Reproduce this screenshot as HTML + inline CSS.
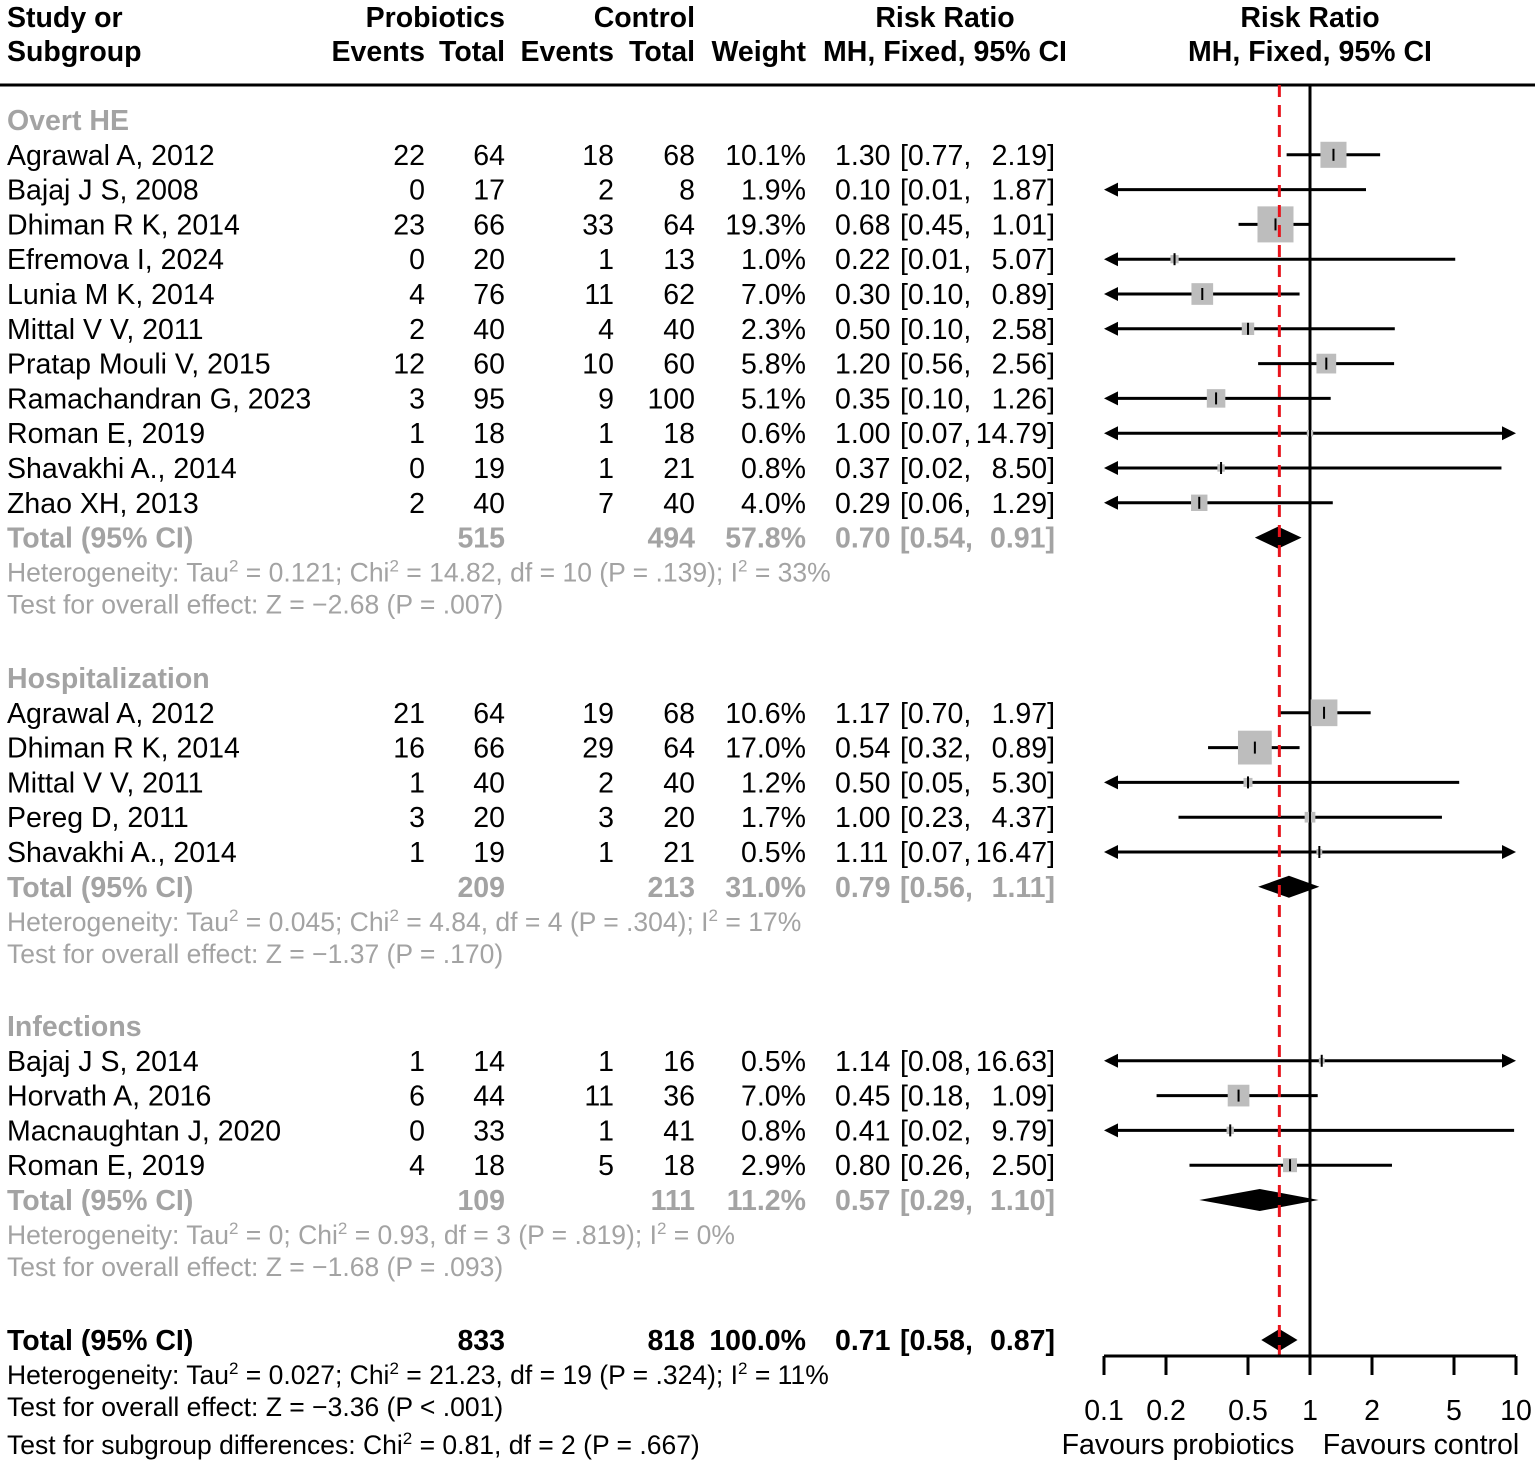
<!DOCTYPE html>
<html><head><meta charset="utf-8"><style>
html,body{margin:0;padding:0;background:#fff;}
svg{display:block;font-family:"Liberation Sans",sans-serif;}
</style></head><body>
<svg id="c" width="1535" height="1465" viewBox="0 0 1535 1465"></svg>
<script>
const groupNames=["Overt HE","Hospitalization","Infections"];
const studies=[
["Agrawal A, 2012","Bajaj J S, 2008","Dhiman R K, 2014","Efremova I, 2024","Lunia M K, 2014","Mittal V V, 2011","Pratap Mouli V, 2015","Ramachandran G, 2023","Roman E, 2019","Shavakhi A., 2014","Zhao XH, 2013"],
["Agrawal A, 2012","Dhiman R K, 2014","Mittal V V, 2011","Pereg D, 2011","Shavakhi A., 2014"],
["Bajaj J S, 2014","Horvath A, 2016","Macnaughtan J, 2020","Roman E, 2019"]];
const pEvents=[[22,0,23,0,4,2,12,3,1,0,2],[21,16,1,3,1],[1,6,0,4]];
const pTotal=[[64,17,66,20,76,40,60,95,18,19,40],[64,66,40,20,19],[14,44,33,18]];
const cEvents=[[18,2,33,1,11,4,10,9,1,1,7],[19,29,2,3,1],[1,11,1,5]];
const cTotal=[[68,8,64,13,62,40,60,100,18,21,40],[68,64,40,20,21],[16,36,41,18]];
const weights=[[10.1,1.9,19.3,1.0,7.0,2.3,5.8,5.1,0.6,0.8,4.0],[10.6,17.0,1.2,1.7,0.5],[0.5,7.0,0.8,2.9]];
const rr=[[1.30,0.10,0.68,0.22,0.30,0.50,1.20,0.35,1.00,0.37,0.29],[1.17,0.54,0.50,1.00,1.11],[1.14,0.45,0.41,0.80]];
const lo=[[0.77,0.01,0.45,0.01,0.10,0.10,0.56,0.10,0.07,0.02,0.06],[0.70,0.32,0.05,0.23,0.07],[0.08,0.18,0.02,0.26]];
const hi=[[2.19,1.87,1.01,5.07,0.89,2.58,2.56,1.26,14.79,8.50,1.29],[1.97,0.89,5.30,4.37,16.47],[16.63,1.09,9.79,2.50]];
const subTotP=[515,209,109], subTotC=[494,213,111], subW=[57.8,31.0,11.2];
const subRR=[0.70,0.79,0.57], subLo=[0.54,0.56,0.29], subHi=[0.91,1.11,1.10];
const hetText=[["0.121","14.82","10",".139","33%"],["0.045","4.84","4",".304","17%"],["0","0.93","3",".819","0%"]];
const zText=[["−2.68","= .007"],["−1.37","= .170"],["−1.68","= .093"]];
const overall={p:833,c:818,w:"100.0%",rr:0.71,lo:0.58,hi:0.87};
const ticks=[0.1,0.2,0.5,1,2,5,10];

const svg=document.getElementById('c');const NS="http://www.w3.org/2000/svg";
const X=v=>1310+Math.log10(v)*206;
const XMIN=1104,XMAX=1516;
const GRAY="#a3a3a3";
const FS=28.5, SFS=26.5;
function el(t,a,txt){const e=document.createElementNS(NS,t);for(const k in a)e.setAttribute(k,a[k]);if(txt!==undefined)e.textContent=txt;svg.appendChild(e);return e;}
function txt(x,y,s,o){o=o||{};const e=el('text',{x:x,y:y,'font-size':o.fs||FS,'text-anchor':o.a||'start',fill:o.fill||'#000','font-weight':o.b?'bold':'normal'},s);return e;}
function fmt(v){return v.toFixed(2);}
[["Study or",7,27],["Subgroup",7,61]].forEach(h=>txt(h[1],h[2],h[0],{b:1,name:'header-study'}));
txt(505,27,"Probiotics",{b:1,a:'end',name:'header-probiotics'});
txt(695,27,"Control",{b:1,a:'end',name:'header-control'});
txt(945,27,"Risk Ratio",{b:1,a:'middle',name:'header-risk-ratio'});
txt(1310,27,"Risk Ratio",{b:1,a:'middle',name:'header-risk-ratio-plot'});
[["Events",425],["Total",505],["Events",614],["Total",695],["Weight",806]].forEach(h=>txt(h[1],61,h[0],{b:1,a:'end',name:'header-col'}));
txt(945,61,"MH, Fixed, 95% CI",{b:1,a:'middle',name:'header-mh'});
txt(1310,61,"MH, Fixed, 95% CI",{b:1,a:'middle',name:'header-mh-plot'});
let l=el('line',{x1:0,y1:85,x2:1535,y2:85,stroke:'#000','stroke-width':3});
l=el('line',{x1:1310,y1:85,x2:1310,y2:1357,stroke:'#000','stroke-width':3});
function ciRow(y,r,a,b,w){
  const la=a<=0.1, rb=b>=10;
  const x1=la?XMIN+4:X(a), x2=rb?XMAX-4:X(b);
  const ln=el('line',{x1:x1,y1:y,x2:x2,y2:y,stroke:'#000','stroke-width':3});
  
  if(r>0.1 && r<10){
    const s=Math.sqrt(w)*8.2, cx=X(r);
    const q=el('rect',{x:cx-s/2,y:y-s/2,width:s,height:s,fill:'#bdbdbd'});
    const t=el('line',{x1:cx,y1:y-6,x2:cx,y2:y+6,stroke:'#000','stroke-width':2});
  }
  if(la){const p=el('path',{d:`M${XMIN} ${y} l14 -7 v14 z`,fill:'#000'});}
  if(rb){const p=el('path',{d:`M${XMAX} ${y} l-14 -7 v14 z`,fill:'#000'});}
}
function diamond(y,r,a,b,name){const p=el('path',{d:`M${X(a)} ${y} L${X(r)} ${y-11} L${X(b)} ${y} L${X(r)} ${y+11} Z`,fill:'#000'});}
function ciText(y,r,a,b,o){txt(835,y,fmt(r),Object.assign({name:'ci-estimate'},o));txt(900,y,"["+fmt(a)+",",Object.assign({name:'ci-lower'},o));txt(1055,y,fmt(b)+"]",Object.assign({a:'end',name:'ci-upper'},o));}
function het(y,fill,parts,name){
  const ht=el('text',{x:7,y:y,'font-size':SFS,fill:fill});
  
  ht.innerHTML=parts;
}
const sup='<tspan dy="-10" font-size="17">2</tspan>';
const starts=[120,678,1026];
starts.forEach((y0,g)=>{
  txt(7,y0+10,groupNames[g],{b:1,fill:GRAY,name:'subgroup-title'});
  studies[g].forEach((s,i)=>{
    const y=y0+34.8*(i+1), by=y+10;
    txt(7,by,s,{name:'study-name'});
    txt(425,by,pEvents[g][i],{a:'end',name:'probiotics-events'});
    txt(505,by,pTotal[g][i],{a:'end',name:'probiotics-total'});
    txt(614,by,cEvents[g][i],{a:'end',name:'control-events'});
    txt(695,by,cTotal[g][i],{a:'end',name:'control-total'});
    txt(806,by,weights[g][i].toFixed(1)+"%",{a:'end',name:'weight'});
    ciText(by,rr[g][i],lo[g][i],hi[g][i],{});
    ciRow(y,rr[g][i],lo[g][i],hi[g][i],weights[g][i]);
  });
  const ty=y0+34.8*(studies[g].length+1), o={b:1,fill:GRAY};
  txt(7,ty+10,"Total (95% CI)",Object.assign({name:'subtotal-label'},o));
  txt(505,ty+10,subTotP[g],Object.assign({a:'end',name:'subtotal-probiotics'},o));
  txt(695,ty+10,subTotC[g],Object.assign({a:'end',name:'subtotal-control'},o));
  txt(806,ty+10,subW[g].toFixed(1)+"%",Object.assign({a:'end',name:'subtotal-weight'},o));
  ciText(ty+10,subRR[g],subLo[g],subHi[g],o);
  diamond(ty,subRR[g],subLo[g],subHi[g],'subtotal-diamond');
  const h=hetText[g];
  het(ty+44,GRAY,`Heterogeneity: Tau${sup}<tspan dy="10"> = ${h[0]}; Chi</tspan>${sup}<tspan dy="10"> = ${h[1]}, df = ${h[2]} (P = ${h[3]}); I</tspan>${sup}<tspan dy="10"> = ${h[4]}</tspan>`,'heterogeneity-text');
  txt(7,ty+76,`Test for overall effect: Z = ${zText[g][0]} (P ${zText[g][1]})`,{fs:SFS,fill:GRAY,name:'overall-effect-text'});
});
const oy=1340;
txt(7,oy+10,"Total (95% CI)",{b:1,name:'overall-label'});
txt(505,oy+10,overall.p,{b:1,a:'end',name:'overall-probiotics'});
txt(695,oy+10,overall.c,{b:1,a:'end',name:'overall-control'});
txt(806,oy+10,overall.w,{b:1,a:'end',name:'overall-weight'});
ciText(oy+10,overall.rr,overall.lo,overall.hi,{b:1});
diamond(oy,overall.rr,overall.lo,overall.hi,'overall-diamond');
het(1384,'#000',`Heterogeneity: Tau${sup}<tspan dy="10"> = 0.027; Chi</tspan>${sup}<tspan dy="10"> = 21.23, df = 19 (P = .324); I</tspan>${sup}<tspan dy="10"> = 11%</tspan>`,'overall-heterogeneity');
txt(7,1416,"Test for overall effect: Z = −3.36 (P < .001)",{fs:SFS,name:'overall-effect'});
het(1454,'#000',`Test for subgroup differences: Chi${sup}<tspan dy="10"> = 0.81, df = 2 (P = .667)</tspan>`,'subgroup-differences');
l=el('line',{x1:X(overall.rr),y1:85,x2:X(overall.rr),y2:1357,stroke:'#e8141c','stroke-width':3,'stroke-dasharray':'12,8'});
l=el('line',{x1:XMIN,y1:1356,x2:XMAX,y2:1356,stroke:'#000','stroke-width':3});
ticks.forEach(t=>{const tk=el('line',{x1:X(t),y1:1356,x2:X(t),y2:1375,stroke:'#000','stroke-width':3});
 txt(X(t),1420,String(t),{a:'middle',name:'x-tick-label'});});
txt(1178,1454,"Favours probiotics",{a:'middle',name:'favours-probiotics'});
txt(1421,1454,"Favours control",{a:'middle',name:'favours-control'});
</script>
</body></html>
